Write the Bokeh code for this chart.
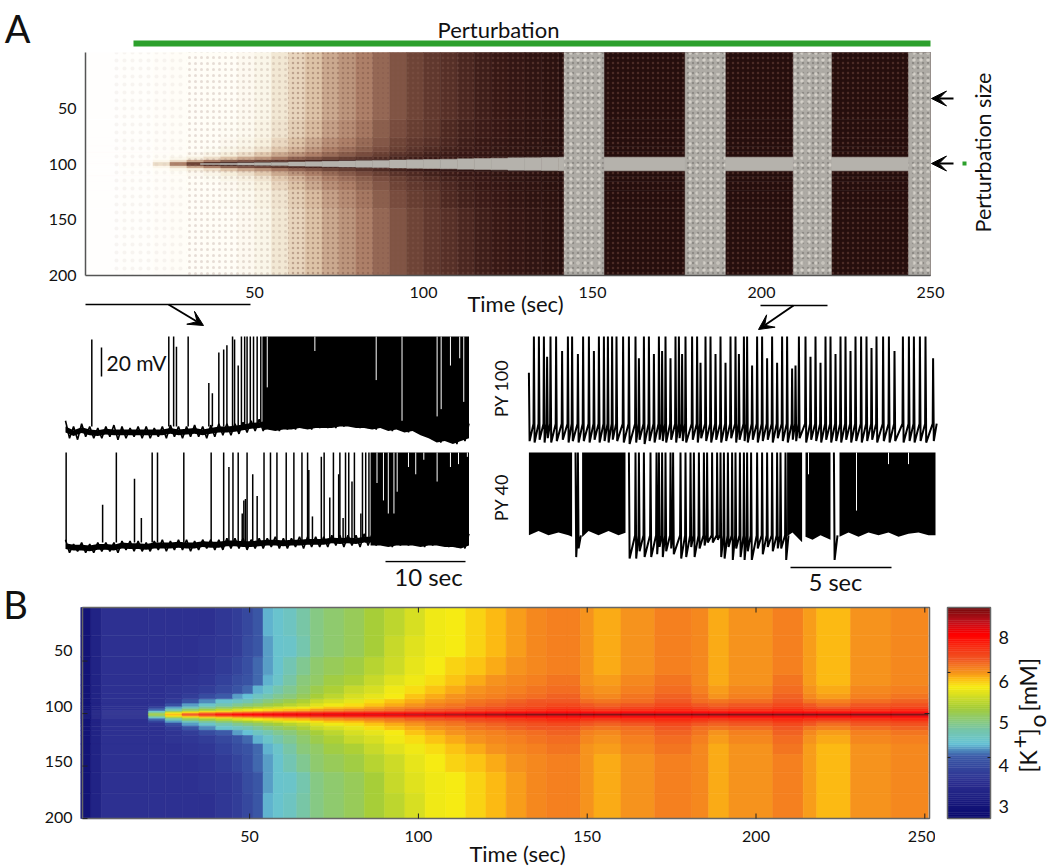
import math
import numpy as np
from bokeh.embed import file_html
from bokeh.layouts import column, row
from bokeh.models import Arrow, ColumnDataSource, FixedTicker, Label, LinearAxis, LinearColorMapper, Range1d, VeeHead
from bokeh.plotting import figure
from bokeh.resources import INLINE

FONT = "Lato"

# ---------- panel A raster: darkness per time column and distance band ----------
raster_t_edges = [0, 10, 20, 25, 30, 35, 40, 45, 50, 55, 60, 65, 70, 75, 80, 85, 90, 95, 100, 105,
                  110, 115, 120, 125, 130, 135, 140, 250]
raster_d_edges = [0, 2, 4, 7, 11, 16, 24, 40, 103]
raster_centre = 100
raster_dark = [
    [3, 10, 35, 60, 75, 85, 90, 92, 94, 95, 96, 97, 97, 98, 98, 99, 99, 99, 99, 99, 99, 99, 99, 99, 99, 99, 99],
    [3, 8, 20, 35, 50, 60, 68, 72, 76, 80, 83, 85, 87, 89, 91, 93, 94, 95, 96, 97, 98, 98, 99, 99, 99, 99, 99],
    [3, 7, 13, 20, 27, 35, 43, 50, 55, 62, 67, 71, 75, 78, 81, 84, 87, 89, 91, 92, 94, 95, 96, 97, 98, 98, 99],
    [3, 7, 11, 15, 18, 23, 30, 35, 42, 50, 55, 60, 65, 69, 73, 77, 81, 84, 87, 89, 91, 92, 94, 95, 96, 97, 99],
    [3, 7, 10, 13, 15, 17, 22, 27, 33, 42, 48, 54, 60, 64, 68, 73, 77, 81, 84, 87, 89, 91, 93, 94, 96, 97, 99],
    [3, 7, 10, 12, 14, 15, 18, 22, 28, 37, 44, 50, 56, 60, 65, 70, 75, 79, 82, 85, 88, 90, 92, 94, 95, 97, 99],
    [3, 7, 10, 12, 13, 14, 16, 19, 24, 33, 40, 46, 52, 57, 62, 68, 73, 77, 80, 84, 87, 89, 91, 93, 95, 96, 99],
    [3, 7, 10, 12, 13, 14, 15, 18, 22, 32, 38, 44, 50, 55, 60, 66, 71, 75, 79, 82, 85, 88, 90, 92, 94, 96, 99],
]
grey_band_start = [141.6, 177.4, 209.4, 243.5]
grey_band_end = [153.4, 189.3, 220.7, 250.0]
wedge_t = [34, 40, 45, 50, 55, 60, 65, 70, 75, 80, 85, 90, 95, 100, 105, 110, 115, 120, 125, 130, 135, 140, 250]
wedge_half = [0.4, 0.7, 1.0, 1.2, 1.4, 1.7, 2.0, 2.4, 2.7, 3.0, 3.2, 3.5, 3.8, 4.0, 4.3, 4.6, 5.0, 5.2, 5.5, 5.7, 5.8, 6.0]
speck_start = [8, 30, 60, 85]
speck_end = [30, 60, 85, 250]
speck_colour = ["#b59f95", "#8d6c5e", "#6e4438", "#85584a"]
speck_alpha = [0.10, 0.22, 0.35, 0.40]
speck_scale = [8, 6, 5, 5]
rows_ticks = [50, 100, 150, 200]
time_ticks = [50, 100, 150, 200, 250]
perturb_start, perturb_end = 14.2, 250.0

# ---------- trace panels (mV, clipped at 0) ----------
t1_spike_t = [3.26, 12.8, 13.4, 13.75, 15.2, 17.76, 18.2, 19.0, 19.6, 20.0, 20.7, 20.95, 21.4, 21.8, 22.2, 22.5, 22.9, 23.3, 23.75, 24.2]
t1_spike_v = [-2, 0, 0, -7, 0, -32, -39, -11, -9, -6, 0, -2, -20, 0, 0, 0, 0, 0, 0, 0]
t1_solid = [(24.4, 50.0)]
t1_gap_t = [30.9, 38.5, 41.7, 46.05, 46.55, 47.7, 48.85, 49.35, 25.0]
t1_gap_v = [-10, -30, -58, -55, -50, -20, -15, -45, -35]
t1_low = [-70, -71, -69, -70, -70, -69, -71, -70, -69, -70,
          -70, -69, -70, -69, -70, -69, -69, -70, -69, -68,
          -68, -67, -66, -65, -65, -64, -65, -64, -64, -63,
          -64, -63, -63, -63, -62, -62, -63, -63, -64, -63,
          -65, -64, -66, -65, -68, -70, -73, -72, -74, -72, -70]
t1_up = [-58, -62, -60, -62, -63, -62, -61, -62, -63, -62,
         -62, -63, -62, -61, -62, -62, -61, -62, -61, -60,
         -60, -60, -59, -58, -57, -56, -56, -55, -54, -54,
         -54, -53, -53, -53, -52, -52, -53, -53, -54, -53,
         -55, -54, -56, -55, -58, -60, -62, -62, -62, -62, -60]

t2_spike_t = [0.08, 4.6, 6.3, 8.55, 9.4, 10.74, 11.4, 14.66, 18.05, 19.6, 20.25, 20.75, 21.4, 21.9, 22.1, 22.3, 22.5, 23.2, 23.75,
              24.6, 25.4, 26.2, 27.35, 28.3, 29.3, 30.0, 30.15, 30.6, 31.7, 32.05, 32.75, 33.2, 33.85, 34.0, 34.4, 34.7, 35.1,
              35.5, 35.8, 36.6, 36.8, 37.2, 37.6]
t2_spike_v = [0, -36, 0, -18, -45, 0, 0, 0, 0, 0, -10, 0, 0, -42, -33, -32, 0, -15, -30,
              0, 0, 0, 0, 0, 0, 0, -12, -44, -3, 0, -31, 0, -15, 0, -45, 0, 0,
              -20, 0, -42, 0, 0, 0]
t2_solid = [(37.8, 50.0)]
t2_gap_t = [38.6, 39.4, 40.0, 40.7, 41.1, 42.5, 43.4, 44.4, 46.05, 47.7, 48.7, 49.8]
t2_gap_v = [-21, -33, -42, -42, -27, -10, -15, -5, -20, -10, -8, -3]
t2_low = [-69, -68, -69, -69, -68, -68, -69, -67, -68, -68,
          -68, -67, -68, -67, -67, -68, -67, -66, -67, -67,
          -66, -66, -67, -66, -66, -65, -66, -66, -65, -66,
          -65, -65, -65, -64, -65, -64, -65, -64, -64, -64,
          -65, -64, -64, -64, -65, -64, -64, -65, -65, -66, -64]
t2_up = [-60, -63, -62, -63, -62, -62, -62, -61, -61, -61,
         -62, -61, -60, -61, -60, -60, -61, -60, -60, -60,
         -59, -59, -59, -60, -59, -59, -58, -59, -59, -58,
         -58, -58, -58, -57, -57, -57, -57, -56, -56, -56,
         -56, -56, -56, -56, -56, -56, -56, -56, -56, -57, -56]

py100_t = [200.02, 200.27, 200.52, 200.77, 200.93, 201.10, 201.38, 201.68, 201.97, 202.18, 202.47, 202.73, 203.02, 203.27,
           203.52, 203.77, 203.97, 204.18, 204.40, 204.73, 205.02, 205.35, 205.52, 205.77, 206.02, 206.27, 206.52, 206.68,
           206.85, 207.10, 207.35, 207.52, 207.68, 207.85, 208.18, 208.43, 208.60, 208.85, 209.10, 209.35, 209.60, 209.85,
           210.10, 210.35, 210.52, 210.77, 210.93, 211.18, 211.43, 211.68, 211.93, 212.18, 212.43, 212.68, 212.93, 213.18,
           213.35, 213.52, 213.85, 214.10, 214.35, 214.60, 214.85, 215.10, 215.35, 215.60, 215.85, 216.10, 216.35, 216.63,
           216.90, 217.15, 217.40, 217.73, 218.02, 218.30, 218.72, 219.02, 219.27, 219.57, 219.85, 220.23]
py100_peak = [-25, 0, 0, 0, -14, 0, 0, -10, 0, 0, -12, 0, 0, -10, 0, 0, 0, 0, 0, 0,
              0, 0, -15, 0, 0, -12, 0, -10, 0, -15, 0, 0, -12, 0, 0, 0, -18, 0, 0, -12,
              0, -18, 0, 0, -12, 0, 0, -20, 0, 0, -15, 0, -18, 0, 0, -22, -20, 0, 0, -14,
              0, -18, 0, 0, -12, 0, 0, -10, 0, 0, 0, -8, 0, 0, 0, -10, 0, 0, 0, 0, 0, -15]
py100_trough = [-72, -73, -71, -73, -70, -73, -72, -71, -73, -72, -73, -72, -73, -71, -73, -72, -73, -71, -72, -73,
                -74, -73, -71, -74, -72, -73, -71, -72, -73, -71, -73, -70, -72, -73, -71, -73, -70, -72, -73, -71,
                -73, -72, -70, -73, -71, -72, -73, -71, -73, -72, -71, -73, -70, -72, -73, -71, -72, -70, -73, -71,
                -72, -73, -71, -73, -72, -73, -71, -73, -72, -73, -72, -71, -73, -72, -73, -72, -73, -72, -73, -72, -73, -72]
py100_pre = -60

py40_solid = [(200.02, 202.18), (202.68, 204.85), (212.93, 213.68), (213.85, 215.1), (215.55, 220.35)]
py40_low_t = [200.0, 200.5, 201.0, 201.5, 202.0, 202.2, 202.7, 203.0, 203.5, 204.0, 204.5, 204.9, 212.9, 213.2, 213.7, 213.85,
              214.2, 214.6, 215.1, 215.55, 216.0, 216.5, 217.0, 217.5, 218.0, 218.5, 219.0, 219.5, 220.0, 220.35]
py40_low_v = [-57, -54, -57, -55, -57, -58, -58, -54, -57, -54, -57, -55, -58, -55, -62, -58,
              -60, -57, -60, -58, -55, -58, -55, -57, -55, -58, -56, -55, -57, -57]
py40_t = [202.35, 202.47, 205.02, 205.35, 205.52, 205.77, 206.1, 206.4, 206.52, 206.68, 206.85, 207.1, 207.23, 207.6, 207.85,
          208.1, 208.27, 208.52, 208.77, 208.93, 209.18, 209.43, 209.6, 209.77, 209.97, 210.18, 210.35, 210.57, 210.77, 210.93,
          211.13, 211.43, 211.68, 211.93, 212.18, 212.43, 212.6, 212.85, 215.27]
py40_trough = [-72, -66, -73, -73, -68, -72, -72, -70, -65, -72, -68, -66, -70, -73, -72,
               -65, -72, -66, -64, -62, -62, -60, -72, -73, -65, -74, -66, -72, -74, -68,
               -74, -66, -70, -65, -68, -66, -66, -74, -74]
py40_pre = -57
py40_gap_t = [213.75, 214.0, 216.4, 218.0, 219.0]
py40_gap_v = [-25, -15, -40, -8, -8]

# ---------- panel B: extracellular K+, as position on the colour bar (0-100) ----------
k_t_edges = [0, 3, 6, 20, 25, 30, 35, 40, 45, 48, 51, 54, 57, 60, 64, 68, 72, 78, 84, 90, 96, 102, 108, 114, 120, 126, 132,
             138, 144, 148, 152, 160, 170, 181, 186, 192, 205, 214, 218, 228, 240, 251]
k_d_edges = [0, 1, 2, 3, 4, 6, 8, 11, 15, 20, 28, 38, 55, 75, 103]
k_centre = 101
k_levels = [
    [5, 11, 17, 50, 66, 75, 80, 84, 86, 87, 87, 88, 88, 89, 89, 90, 90, 90, 91, 92, 93, 94, 95, 96, 97, 98, 99, 99, 99, 99, 99, 99, 99, 99, 99, 99, 99, 99, 99, 99, 99],
    [5, 11, 17, 48, 63, 70, 74, 77, 79, 80, 81, 82, 83, 84, 84, 85, 86, 86, 87, 87, 88, 88, 89, 89, 90, 90, 91, 91, 91, 91, 90, 91, 91, 91, 91, 91, 91, 91, 90, 91, 91],
    [5, 11, 17, 42, 57, 63, 67, 69, 71, 72, 73, 74, 75, 76, 77, 78, 79, 80, 80, 81, 82, 82, 83, 84, 85, 86, 86, 87, 87, 87, 86, 87, 87, 87, 86, 87, 87, 87, 86, 87, 87],
    [5, 11, 17, 36, 48, 55, 60, 63, 65, 66, 67, 68, 69, 70, 71, 72, 73, 74, 75, 76, 77, 78, 79, 80, 81, 82, 83, 84, 84, 83, 83, 84, 84, 84, 83, 83, 84, 83, 83, 83, 84],
    [5, 11, 17, 30, 40, 47, 51, 55, 58, 60, 62, 63, 64, 65, 66, 68, 69, 70, 71, 72, 74, 75, 76, 77, 78, 79, 80, 81, 81, 80, 79, 80, 81, 80, 79, 80, 81, 80, 79, 80, 81],
    [5, 11, 17, 23, 33, 39, 43, 47, 50, 52, 54, 56, 58, 60, 61, 63, 65, 66, 68, 70, 71, 72, 73, 75, 76, 77, 78, 79, 79, 77, 76, 78, 79, 78, 76, 77, 79, 77, 75, 77, 78],
    [5, 11, 17, 18, 26, 33, 37, 41, 44, 46, 48, 50, 52, 54, 56, 59, 61, 63, 65, 67, 69, 71, 72, 73, 74, 75, 76, 77, 77, 75, 74, 75, 77, 75, 74, 75, 77, 75, 73, 75, 76],
    [5, 11, 17, 17, 20, 27, 32, 36, 38, 40, 43, 46, 48, 50, 53, 56, 58, 60, 63, 65, 67, 69, 70, 72, 73, 74, 75, 75, 75, 73, 72, 73, 75, 73, 72, 73, 75, 72, 71, 73, 74],
    [5, 11, 17, 17, 18, 21, 25, 29, 33, 35, 38, 41, 44, 46, 49, 52, 55, 58, 60, 62, 65, 67, 69, 70, 71, 72, 73, 74, 74, 71, 70, 72, 74, 72, 69, 71, 74, 70, 68, 71, 72],
    [5, 11, 17, 17, 18, 19, 21, 24, 27, 30, 34, 37, 41, 44, 47, 50, 53, 56, 58, 61, 63, 65, 67, 69, 70, 71, 72, 73, 73, 70, 69, 71, 73, 71, 68, 70, 73, 69, 67, 70, 71],
    [5, 11, 17, 17, 17, 18, 19, 22, 25, 27, 30, 34, 37, 42, 46, 48, 51, 53, 56, 59, 61, 63, 65, 67, 69, 70, 71, 72, 72, 69, 68, 70, 72, 70, 67, 69, 72, 68, 66, 69, 70],
    [5, 11, 17, 17, 17, 17, 18, 20, 23, 26, 30, 33, 36, 40, 44, 47, 49, 51, 54, 57, 60, 62, 64, 65, 67, 69, 70, 71, 71, 69, 67, 69, 71, 70, 67, 69, 71, 68, 66, 69, 70],
    [5, 11, 17, 17, 17, 17, 18, 19, 21, 25, 28, 33, 36, 37, 41, 45, 47, 49, 52, 56, 59, 61, 62, 64, 66, 68, 70, 71, 71, 69, 67, 69, 71, 70, 67, 69, 71, 68, 66, 69, 70],
    [5, 11, 17, 17, 17, 17, 17, 19, 21, 24, 28, 34, 36, 38, 42, 45, 47, 49, 52, 55, 58, 61, 62, 64, 66, 68, 70, 71, 71, 69, 67, 69, 71, 70, 67, 69, 71, 68, 66, 69, 70],
]
cbar_label_level = [5.7, 25, 45.5, 65, 85.8]
cbar_labels = ["3", "4", "5", "6", "8"]
cbar_mark_level = [28.9, 69.2]


def make_palette(stops, n=256):
    pos = [s[0] for s in stops]
    rgb = np.array([[int(s[1][i:i + 2], 16) for i in (1, 3, 5)] for s in stops], float)
    xs = np.linspace(pos[0], pos[-1], n)
    out = np.stack([np.interp(xs, pos, rgb[:, i]) for i in range(3)], axis=1).astype(int)
    return ["#%02x%02x%02x" % tuple(c) for c in out]


dark_palette = make_palette([(0, "#ffffff"), (15, "#fffdf6"), (30, "#f6eedb"), (45, "#dcc0a4"), (60, "#ad7f68"),
                             (75, "#704538"), (90, "#381916"), (100, "#240e0d")])
k_palette = make_palette([(0, "#0a0a6e"), (17, "#2e3192"), (29, "#3c5aa8"), (35, "#67c3d6"), (42, "#79c7a6"),
                          (52, "#a6ce39"), (58, "#d7df23"), (62, "#f7ec13"), (66, "#fdb913"), (69, "#f7941d"),
                          (75, "#f15a24"), (87, "#ff0000"), (93, "#c1121c"), (100, "#6e0a0a")])


def full_frame(w, h, xr, yr):
    p = figure(width=w, height=h, x_range=Range1d(*xr), y_range=Range1d(*yr), output_backend="svg",
               toolbar_location=None, min_border_left=0, min_border_right=0, min_border_top=0, min_border_bottom=0,
               x_axis_location=None, y_axis_location=None, outline_line_color=None, background_fill_color=None,
               border_fill_color=None)
    p.grid.visible = False
    return p


def band_quads(p, t_edges, d_edges, matrix, centre, palette, rmax, rmin):
    mapper = LinearColorMapper(palette=palette, low=0, high=100)
    L, R, T, B, V = [], [], [], [], []
    for i in range(len(d_edges) - 1):
        for j in range(len(t_edges) - 1):
            for sign in (-1, 1):
                a = centre + sign * d_edges[i]
                b = centre + sign * d_edges[i + 1]
                L.append(t_edges[j]); R.append(t_edges[j + 1])
                T.append(max(min(a, b), rmin)); B.append(min(max(a, b), rmax))
                V.append(matrix[i][j])
    src = ColumnDataSource(dict(left=L, right=R, top=T, bottom=B, val=V))
    spec = {"field": "val", "transform": mapper}
    p.quad(left="left", right="right", top="top", bottom="bottom", source=src,
           fill_color=spec, line_color=spec, line_width=0.6)


def text(p, x, y, s, size, align="center", angle=0.0, baseline="middle"):
    p.add_layout(Label(x=x, y=y, text=s, text_font=FONT, text_font_size=f"{size}px", text_color="#111111",
                       text_align=align, text_baseline=baseline, angle=angle, angle_units="rad"))


def rule(p, x0, y0, x1, y1, width=1.5, color="black", head=None):
    p.add_layout(Arrow(x_start=x0, y_start=y0, x_end=x1, y_end=y1, line_color=color, line_width=width,
                       end=VeeHead(size=head, fill_color="black", line_color="black", line_width=1) if head else None))


def axis(p, side, ticks, at, bounds, standoff, size=16, **kw):
    ax = LinearAxis(ticker=FixedTicker(ticks=ticks), fixed_location=at, bounds=bounds, major_label_standoff=standoff,
                    major_label_text_font=FONT, major_label_text_font_size=f"{size}px", major_label_text_color="#111111",
                    major_tick_line_color=None, minor_tick_line_color=None, **kw)
    p.add_layout(ax, side)
    return ax


# ---------- panel A ----------
fx = lambda px: (px - 85) / 3.38
fy = lambda py: (py - 52) / 1.115
pa = full_frame(1045, 330, (fx(0), fx(1045)), (fy(330), fy(0)))
band_quads(pa, raster_t_edges, raster_d_edges, raster_dark, raster_centre, dark_palette, 200, 0)
for a, b, c, al, sc in zip(speck_start, speck_end, speck_colour, speck_alpha, speck_scale):
    pa.quad(left=a, right=b, top=0, bottom=200, fill_color=None, line_color=None,
            hatch_pattern="dot", hatch_color=c, hatch_scale=sc, hatch_weight=1, hatch_alpha=al)
pa.quad(left=wedge_t[:-1], right=wedge_t[1:],
        top=[raster_centre - h for h in wedge_half], bottom=[raster_centre + h for h in wedge_half],
        fill_color="#b5b2ac", line_color="#b5b2ac", line_width=0.5)
pa.quad(left=grey_band_start, right=grey_band_end, top=0, bottom=200,
        fill_color="#aeaba5", line_color="#aeaba5", line_width=0.5,
        hatch_pattern="dot", hatch_color="#5f5b57", hatch_scale=5, hatch_weight=1, hatch_alpha=0.4)
pa.quad(left=grey_band_start, right=grey_band_end, top=0, bottom=200, fill_color=None, line_color=None,
        hatch_pattern="dot", hatch_color="#ece8df", hatch_scale=7, hatch_weight=1, hatch_alpha=0.6)
axis(pa, "below", time_ticks, 200, (0, 250), 5, axis_line_color="#555555", axis_line_width=1.5)
axis(pa, "left", rows_ticks, 0, (0, 200), 3, axis_line_color="#555555", axis_line_width=1.5)

text(pa, fx(17), fy(27), "A", 38)
text(pa, fx(498), fy(29), "Perturbation", 22)
rule(pa, perturb_start, fy(43), perturb_end, fy(43), width=6, color="#2ca02c")
text(pa, fx(515), fy(303), "Time (sec)", 22)
rule(pa, fx(85), fy(304), fx(250), fy(304))
rule(pa, fx(168), fy(304), fx(203), fy(325), width=2, head=15)
rule(pa, fx(760), fy(305), fx(827), fy(305))
rule(pa, fx(793), fy(305), fx(758), fy(329), width=2, head=15)
rule(pa, fx(953), fy(98), fx(931), fy(98), width=2, head=15)
rule(pa, fx(953), fy(163), fx(931), fy(163), width=2, head=15)
rule(pa, fx(962), fy(163), fx(966), fy(163), width=4, color="#2ca02c")
text(pa, fx(982), fy(152), "Perturbation size", 21.5, angle=math.pi / 2)


# ---------- traces ----------
def solid_fill(p, spans, tt, low):
    tt, low = np.array(tt, float), np.array(low, float)
    for a, b in spans:
        xs = np.concatenate([[a], tt[(tt > a) & (tt < b)], [b]])
        ys = np.interp(xs, tt, low)
        p.varea(x=xs, y1=0, y2=ys, fill_color="black")


def baseline(p, grid, up, low):
    up, low = np.array(up, float), np.array(low, float)
    mid = (up + low) / 2
    p.varea(x=grid, y1=mid + 2, y2=mid - 2, fill_color="black")
    xs, ys = [], []
    for i, t in enumerate(grid):
        xs += [t, t + 0.5]
        ys += [up[i], low[i]]
    p.line(x=xs[:-1], y=ys[:-1], line_color="black", line_width=1.6)


t1_grid = list(range(51))
tx = lambda px: (px - 65) / 8.07
my1 = lambda py: -(py - 336) / 1.453
my2 = lambda py: -(py - 452) / 1.453
p1 = full_frame(490, 119, (tx(0), tx(490)), (my1(449), my1(330)))
baseline(p1, t1_grid, t1_up, t1_low)
solid_fill(p1, t1_solid, t1_grid, t1_low)
p1.segment(x0=t1_spike_t, y0=-62, x1=t1_spike_t, y1=t1_spike_v, line_color="black", line_width=1.5)
p1.segment(x0=t1_gap_t, y0=0, x1=t1_gap_t, y1=t1_gap_v, line_color="white", line_width=1)
rule(p1, tx(101), my1(347), tx(101), my1(376), width=1.5)
text(p1, tx(136), my1(362), "20 mV", 21)

p2 = full_frame(490, 111, (tx(0), tx(490)), (my2(560), my2(449)))
baseline(p2, t1_grid, t2_up, t2_low)
solid_fill(p2, t2_solid, t1_grid, t2_low)
p2.segment(x0=t2_spike_t, y0=-62, x1=t2_spike_t, y1=t2_spike_v, line_color="black", line_width=1.5)
p2.segment(x0=t2_gap_t, y0=0, x1=t2_gap_t, y1=t2_gap_v, line_color="white", line_width=1)


def sawtooth(times, peaks, troughs, pre):
    xs, ys = [], []
    for i, t in enumerate(times):
        nxt = times[i + 1] if i + 1 < len(times) else t + 0.2
        if nxt - t > 1.0:
            xs += [t, t + 0.035, t + 0.15, float("nan")]
            ys += [peaks[i], troughs[i], pre, float("nan")]
        else:
            xs += [t, t + 0.035, nxt - 0.02]
            ys += [peaks[i], troughs[i], pre]
    return xs, ys


rx = lambda px: 200 + (px - 528) / 20
p3 = full_frame(460, 119, (rx(490), rx(950)), (my1(449), my1(330)))
x3, y3 = sawtooth(py100_t, py100_peak, py100_trough, py100_pre)
p3.line(x=x3, y=y3, line_color="black", line_width=2, line_join="bevel")
text(p3, rx(500), my1(388), "PY 100", 18, angle=math.pi / 2)

p4 = full_frame(460, 111, (rx(490), rx(950)), (my2(560), my2(449)))
solid_fill(p4, py40_solid, py40_low_t, py40_low_v)
x4, y4 = sawtooth(py40_t, [0] * len(py40_t), py40_trough, py40_pre)
p4.line(x=x4, y=y4, line_color="black", line_width=2, line_join="bevel")
p4.segment(x0=py40_gap_t, y0=0, x1=py40_gap_t, y1=py40_gap_v, line_color="white", line_width=1)
text(p4, rx(500), my2(497), "PY 40", 18, angle=math.pi / 2)

# ---------- panel B ----------
gx = lambda px: 0.5 + (px - 82) / 3.376
gy = lambda py: -1 + (py - 607) / 1.05
pb = full_frame(935, 307, (gx(0), gx(935)), (gy(867), gy(560)))
band_quads(pb, k_t_edges, k_d_edges, k_levels, k_centre, k_palette, 200, -1)
pb.extra_y_ranges["labels"] = Range1d(50 + (867 - 650) / 1.113, 50 + (560 - 650) / 1.113)
pb.quad(left=gx(82), right=gx(929), top=-1, bottom=200, fill_color=None, line_color="#666666", line_width=1.5)
pb.segment(x0=time_ticks, y0=-1, x1=time_ticks, y1=3.8, line_color="#222222", line_width=1)
pb.segment(x0=time_ticks, y0=200, x1=time_ticks, y1=195.2, line_color="#222222", line_width=1)
pb.segment(x0=gx(82), y0=rows_ticks, x1=gx(87), y1=rows_ticks, line_color="#222222", line_width=1)
pb.segment(x0=gx(924), y0=[100], x1=gx(929), y1=[100], line_color="#222222", line_width=1)
axis(pb, "below", time_ticks, 200, (0.5, 250.9), 6, axis_line_color=None)
axis(pb, "left", rows_ticks, gx(82), (0, 200), 4, axis_line_color=None, y_range_name="labels")
text(pb, gx(15), gy(603), "B", 38)
text(pb, gx(517), gy(853), "Time (sec)", 22)
rule(pb, gx(385), gy(561), gx(465), gy(561))
rule(pb, gx(790), gy(567), gx(891), gy(567))
text(pb, gx(835), gy(581), "5 sec", 23.5)
text(pb, gx(428), gy(576), "10 sec", 24)

# ---------- colour bar ----------
cx = lambda px: (px - 947) / 43.0
cy = lambda py: (818 - py) / 2.11
pc = full_frame(114, 307, (cx(935), cx(1049)), (cy(867), cy(560)))
cbar_steps = list(range(0, 100))
pc.quad(left=0, right=1, bottom=cbar_steps, top=[s + 1 for s in cbar_steps],
        fill_color=[k_palette[int(s * 2.56)] for s in cbar_steps],
        line_color=[k_palette[int(s * 2.56)] for s in cbar_steps], line_width=0.5)
pc.quad(left=0, right=1, bottom=0, top=100, fill_color=None, line_color="#666666", line_width=1.5)
pc.segment(x0=0, y0=cbar_mark_level, x1=0.07, y1=cbar_mark_level, line_color="#222222", line_width=1)
pc.segment(x0=0.93, y0=cbar_mark_level, x1=1, y1=cbar_mark_level, line_color="#222222", line_width=1)
axis(pc, "right", cbar_label_level, 1, (0, 100), 2, size=18, axis_line_color=None,
     major_label_overrides={k: v for k, v in zip(cbar_label_level, cbar_labels)})
up = math.pi / 2
text(pc, cx(1027), cy(772), "[K", 23, align="left", angle=up)
text(pc, cx(1019), cy(748), "+", 23, align="left", angle=up)
text(pc, cx(1027), cy(735), "]", 23, align="left", angle=up)
text(pc, cx(1036), cy(727), "o", 23, align="left", angle=up)
text(pc, cx(1027), cy(711), "[mM]", 23, align="left", angle=up)

layout = column(pa,
                row(column(p1, p2, spacing=0), column(p3, p4, spacing=0), spacing=0),
                row(pb, pc, spacing=0),
                spacing=0, styles={"position": "absolute", "left": "0px", "top": "0px"})

open("out.html", "w").write(file_html(layout, INLINE))
